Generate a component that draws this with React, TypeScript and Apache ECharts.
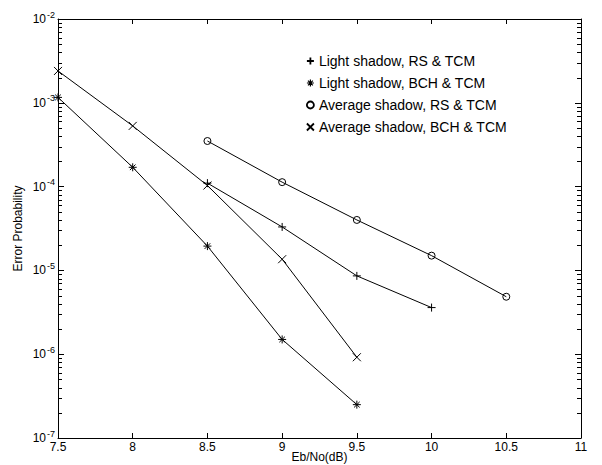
import React, { useEffect, useRef } from 'react';
import * as echarts from 'echarts';

const seriesNames = [
  'Light shadow, RS & TCM',
  'Light shadow, BCH & TCM',
  'Average shadow, RS & TCM',
  'Average shadow, BCH & TCM',
];
const lightRsX = [8.5, 9, 9.5, 10];
const lightRsY = [1.1e-4, 3.3e-5, 8.6e-6, 3.6e-6];
const lightBchX = [7.5, 8, 8.5, 9, 9.5];
const lightBchY = [1.16e-3, 1.7e-4, 1.95e-5, 1.5e-6, 2.5e-7];
const avgRsX = [8.5, 9, 9.5, 10, 10.5];
const avgRsY = [3.5e-4, 1.13e-4, 4.0e-5, 1.5e-5, 4.85e-6];
const avgBchX = [7.5, 8, 8.5, 9, 9.5];
const avgBchY = [2.4e-3, 5.3e-4, 1.03e-4, 1.36e-5, 9.2e-7];

const xMin = 7.5;
const xMax = 11;
const xStep = 0.5;
const yMin = 1e-7;
const yMax = 1e-2;
const decadeExponents = [-7, -6, -5, -4, -3];
const minorMantissas = [2, 3, 4, 5, 6, 7, 8, 9];

const SYM_PLUS = 'path://M0,5L10,5M5,0L5,10';
const SYM_STAR = 'path://M0,5L10,5M5,0L5,10M1.5,1.5L8.5,8.5M8.5,1.5L1.5,8.5';
const SYM_CIRCLE = 'path://M5,0A5,5 0 1,1 5,10A5,5 0 1,1 5,0Z';
const SYM_CROSS = 'path://M0,0L10,10M10,0L0,10';

const FONT = '"Liberation Sans", Arial, Helvetica, sans-serif';

function zip(xs: number[], ys: number[]) {
  return xs.map((x, i) => [x, ys[i]]);
}

export default function App() {
  const ref = useRef<HTMLDivElement>(null);
  useEffect(() => {
    if (!ref.current) return;
    const chart = echarts.init(ref.current, undefined, { renderer: 'svg' });

    const mkSeries = (name: string, data: number[][], symbol: string, size: number) => ({
      name,
      type: 'line',
      data,
      symbol,
      symbolSize: size,
      symbolKeepAspect: true,
      showSymbol: true,
      lineStyle: { color: '#000', width: 1 },
      itemStyle: { color: 'rgba(0,0,0,0)', borderColor: '#000', borderWidth: 1 },
      emphasis: { disabled: true },
      z: 3,
    });

    const axisCommon = {
      axisLine: { show: true, lineStyle: { color: '#000', width: 1 } },
      splitLine: { show: false },
    };

    chart.setOption({
      animation: false,
      backgroundColor: '#fff',
      grid: { left: 58, right: 21, top: 19, bottom: 27, show: false, containLabel: false, outerBoundsMode: 'none' },
      legend: {
        orient: 'vertical',
        left: 306,
        top: 54,
        padding: 0,
        itemWidth: 7,
        itemHeight: 7,
        itemGap: 8,
        selectedMode: false,
        textStyle: { fontSize: 14, fontFamily: FONT, color: '#000' },
        itemStyle: { borderWidth: 1.8 },
        data: [
          { name: seriesNames[0], icon: SYM_PLUS },
          { name: seriesNames[1], icon: SYM_STAR, itemStyle: { borderWidth: 1.2 } },
          { name: seriesNames[2], icon: SYM_CIRCLE },
          { name: seriesNames[3], icon: SYM_CROSS },
        ],
      },
      xAxis: [
        {
          type: 'value',
          min: xMin,
          max: xMax,
          interval: xStep,
          position: 'bottom',
          name: 'Eb/No(dB)',
          nameLocation: 'middle',
          nameGap: 13,
          nameMoveOverlap: false,
          nameTextStyle: { fontSize: 12, fontFamily: FONT, color: '#000' },
          axisTick: { show: true, inside: true, length: 5, lineStyle: { color: '#000' } },
          axisLabel: { fontSize: 12, fontFamily: FONT, color: '#000', margin: 3 },
          ...axisCommon,
        },
        {
          type: 'value',
          min: xMin,
          max: xMax,
          interval: xStep,
          position: 'top',
          axisTick: { show: true, inside: true, length: 5, lineStyle: { color: '#000' } },
          axisLabel: { show: false },
          ...axisCommon,
        },
      ],
      yAxis: [
        {
          type: 'log',
          logBase: 10,
          min: yMin,
          max: yMax,
          interval: 1,
          position: 'left',
          name: 'Error Probability',
          nameLocation: 'middle',
          nameGap: 34,
          nameMoveOverlap: false,
          nameTextStyle: { fontSize: 12, fontFamily: FONT, color: '#000' },
          axisTick: { show: true, inside: true, length: 6, lineStyle: { color: '#000' } },
          axisLabel: {
            fontFamily: FONT,
            color: '#000',
            margin: 3,
            formatter: (v: number) => `{b|10}{s|-${Math.round(-Math.log10(v))}}`,
            rich: {
              b: { fontSize: 12, fontFamily: FONT, color: '#000', lineHeight: 14 },
              s: { fontSize: 9, fontFamily: FONT, color: '#000', lineHeight: 9, padding: [0, 0, 9, 1] },
            },
          },
          ...axisCommon,
        },
        {
          type: 'log',
          logBase: 10,
          min: yMin,
          max: yMax,
          interval: 1,
          position: 'right',
          axisTick: { show: true, inside: true, length: 6, lineStyle: { color: '#000' } },
          axisLabel: { show: false },
          ...axisCommon,
        },
      ],
      series: [
        mkSeries(seriesNames[0], zip(lightRsX, lightRsY), SYM_PLUS, 8),
        mkSeries(seriesNames[1], zip(lightBchX, lightBchY), SYM_STAR, 8),
        mkSeries(seriesNames[2], zip(avgRsX, avgRsY), SYM_CIRCLE, 7),
        mkSeries(seriesNames[3], zip(avgBchX, avgBchY), SYM_CROSS, 8),
      ],
    });

    // minor log ticks (2..9 x 10^k), placed through the chart's own scales
    const minorLines: any[] = [];
    decadeExponents.forEach((e) => {
      minorMantissas.forEach((m) => {
        const v = m * Math.pow(10, e);
        const l = chart.convertToPixel({ gridIndex: 0 }, [xMin, v]) as number[];
        const r = chart.convertToPixel({ gridIndex: 0 }, [xMax, v]) as number[];
        if (!l || !r) return;
        const ly = Math.round(l[1]) + 0.5;
        minorLines.push({
          type: 'line',
          silent: true,
          z: 100,
          shape: { x1: l[0], y1: ly, x2: l[0] + 4, y2: ly },
          style: { stroke: '#000', lineWidth: 1 },
        });
        minorLines.push({
          type: 'line',
          silent: true,
          z: 100,
          shape: { x1: r[0] - 4, y1: ly, x2: r[0], y2: ly },
          style: { stroke: '#000', lineWidth: 1 },
        });
      });
    });
    chart.setOption({ graphic: minorLines });

    return () => chart.dispose();
  }, []);
  return (
    <div
      ref={ref}
      style={{ position: 'absolute', left: 0, top: 0, width: 602, height: 465, background: '#fff' }}
    />
  );
}
